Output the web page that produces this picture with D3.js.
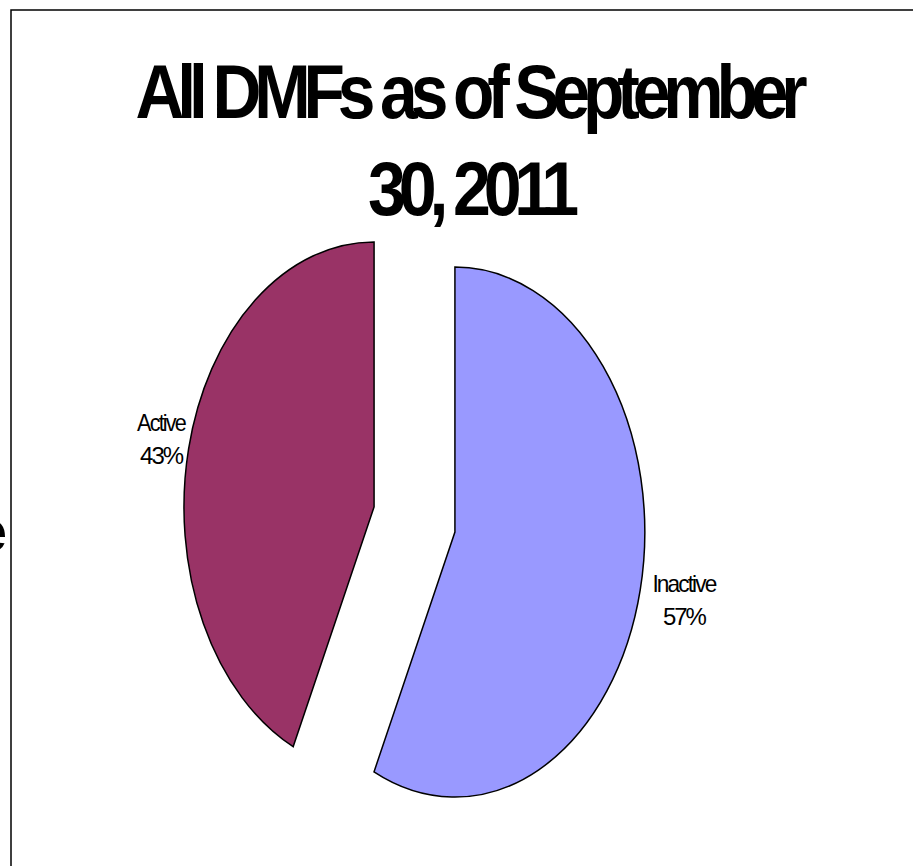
<!DOCTYPE html>
<html lang="en">
  <head>
    <meta charset="UTF-8" />
    <title>All DMFs as of September 30, 2011</title>
    <script src="https://d3js.org/d3.v7.min.js"></script>
    <style>
      body {
        margin: 0;
        background: #fff;
      }
      text {
        font-family: "Liberation Sans", Arial, sans-serif;
      }
    </style>
  </head>
  <body>
    <div id="chart"></div>
    <script>
      const categories = ["Inactive", "Active"];
      const values = [57, 43];
      const colors = ["#9999ff", "#993366"];
      const titleLines = ["All DMFs as of September", "30, 2011"];

      const W = 913;
      const H = 866;
      const cx = 414.5;
      const cy = 519.5;
      const rx = 190;
      const ry = 265;
      const explode = 0.218;

      const svg = d3
        .select("#chart")
        .append("svg")
        .attr("width", W)
        .attr("height", H);

      // frame (only top and left edges visible)
      svg
        .append("path")
        .attr("d", `M11,${H} L11,10 L${W},10`)
        .attr("fill", "none")
        .attr("stroke", "#000")
        .attr("stroke-width", 1.5);

      // clipped letter from a neighbouring slide object
      svg
        .append("text")
        .attr("x", 7)
        .attr("y", 551)
        .attr("text-anchor", "end")
        .style("font-size", "58px")
        .style("font-weight", "bold")
        .text("e");

      // title: condensed, tight tracking
      const titleSpec = [
        { x: 468, y: 118, width: 665, size: 76 },
        { x: 470, y: 215, width: 204, size: 76 },
      ];
      svg
        .selectAll("text.title")
        .data(titleLines)
        .enter()
        .append("text")
        .attr("class", "title")
        .attr("x", (d, i) => titleSpec[i].x)
        .attr("y", (d, i) => titleSpec[i].y)
        .attr("text-anchor", "middle")
        .attr("textLength", (d, i) => titleSpec[i].width)
        .attr("lengthAdjust", "spacingAndGlyphs")
        .style("font-size", (d, i) => titleSpec[i].size + "px")
        .style("font-weight", "bold")
        .style("letter-spacing", "-8px")
        .text((d) => d);

      const pie = d3.pie().sort(null).value((d) => d);
      const arcs = pie(values);
      const arc = d3.arc().innerRadius(0).outerRadius(1);

      const x = d3.scaleLinear().domain([-1, 1]).range([cx - rx, cx + rx]);
      const y = d3.scaleLinear().domain([-1, 1]).range([cy - ry, cy + ry]);

      const mid = (d) => (d.startAngle + d.endAngle) / 2;
      const offX = (d) => Math.sin(mid(d)) * explode;
      const offY = (d) => -Math.cos(mid(d)) * explode;

      svg
        .selectAll("g.slice")
        .data(arcs)
        .enter()
        .append("g")
        .attr("class", "slice")
        .attr(
          "transform",
          (d) => `translate(${x(offX(d))},${y(offY(d))}) scale(${rx},${ry})`
        )
        .append("path")
        .attr("d", arc)
        .attr("fill", (d, i) => colors[i])
        .attr("stroke", "#000")
        .attr("stroke-width", 1.5)
        .attr("vector-effect", "non-scaling-stroke");

      // labels, placed just outside the slice's outer edge
      const nameWidth = [63, 48];
      const labelGap = [39, 23];
      svg
        .selectAll("text.label")
        .data(arcs)
        .enter()
        .append("text")
        .attr("class", "label")
        .attr("text-anchor", "middle")
        .style("font-size", "24px")
        .style("letter-spacing", "-2px")
        .each(function (d, i) {
          const side = Math.sin(mid(d)) > 0 ? 1 : -1;
          const edge = x(offX(d) + side);
          const lx = edge + side * labelGap[i];
          const ly = y(offY(d) - Math.cos(mid(d)) * 1.17);
          const pct = Math.round((100 * d.value) / d3.sum(values)) + "%";
          const t = d3.select(this);
          t.append("tspan")
            .attr("x", lx)
            .attr("y", ly - 8)
            .attr("textLength", nameWidth[i])
            .attr("lengthAdjust", "spacingAndGlyphs")
            .text(categories[i]);
          t.append("tspan")
            .attr("x", lx)
            .attr("y", ly + 25)
            .attr("textLength", 42)
            .attr("lengthAdjust", "spacingAndGlyphs")
            .text(pct);
        });
    </script>
  </body>
</html>
